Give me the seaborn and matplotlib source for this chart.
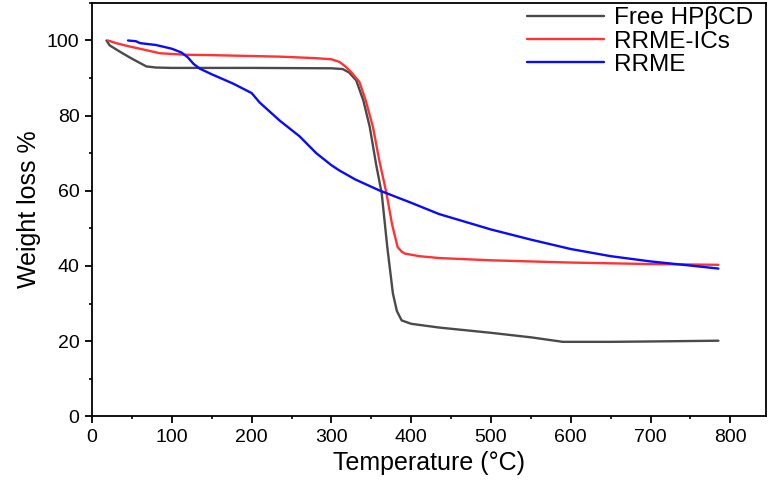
import pandas as pd
import matplotlib.pyplot as plt
import seaborn as sns
from matplotlib.ticker import MultipleLocator

# TGA curves
free_T = [18, 22, 35, 47, 60, 68, 80, 100, 200, 300, 314, 322, 331, 340, 348, 356,
          363, 370, 377, 382, 388, 400, 435, 500, 550, 590, 650, 700, 785]
free_W = [100, 98.7, 97, 95.5, 94, 93.1, 92.8, 92.7, 92.7, 92.6, 92.4, 91.5, 89.4, 84, 77, 67,
          59.3, 45, 32.7, 28, 25.5, 24.6, 23.6, 22.2, 21, 19.8, 19.8, 19.9, 20.1]

ic_T = [20, 30, 45, 60, 85, 118, 150, 235, 280, 300, 310, 318, 325, 335, 343, 352,
        360, 369, 376, 383, 388, 392, 410, 435, 500, 600, 700, 785]
ic_W = [100, 99.3, 98.5, 97.8, 96.6, 96.2, 96.1, 95.7, 95.3, 95, 94.3, 93, 91.5, 89, 84, 77,
        68, 59.3, 51, 45, 43.8, 43.3, 42.6, 42.1, 41.5, 40.9, 40.5, 40.3]

rrme_T = [45, 55, 60, 80, 100, 112, 120, 127, 135, 150, 177, 200, 210, 235, 260, 281, 300,
          310, 330, 360, 400, 435, 500, 550, 600, 650, 700, 750, 785]
rrme_W = [100, 99.8, 99.3, 98.8, 97.8, 96.8, 95.5, 93.8, 92.5, 91, 88.5, 86, 83.5, 78.7, 74.5, 70, 66.8,
          65.4, 63, 60.1, 56.8, 53.8, 49.7, 47, 44.5, 42.6, 41.2, 40.1, 39.3]

labels = ['Free HPβCD', 'RRME-ICs', 'RRME']
colors = ['#4a4a4a', '#ff3333', '#0a0aff']

df = pd.concat([
    pd.DataFrame({'T': free_T, 'W': free_W, 'sample': labels[0]}),
    pd.DataFrame({'T': ic_T, 'W': ic_W, 'sample': labels[1]}),
    pd.DataFrame({'T': rrme_T, 'W': rrme_W, 'sample': labels[2]}),
])

sns.set_style("ticks")
plt.rcParams['font.family'] = ['Liberation Sans', 'DejaVu Sans']
plt.rcParams['text.color'] = 'black'
plt.rcParams['axes.labelcolor'] = 'black'
plt.rcParams['xtick.labelcolor'] = 'black'
plt.rcParams['ytick.labelcolor'] = 'black'

fig = plt.figure(figsize=(7.74, 4.84), dpi=100)
ax = fig.add_axes([0.119, 0.140, 0.871, 0.854])
sns.lineplot(data=df, x='T', y='W', hue='sample', palette=dict(zip(labels, colors)),
             estimator=None, linewidth=1.7, ax=ax)

ax.set_xlim(0, 845)
ax.set_ylim(0, 110)
ax.xaxis.set_major_locator(MultipleLocator(100))
ax.xaxis.set_minor_locator(MultipleLocator(50))
ax.yaxis.set_major_locator(MultipleLocator(20))
ax.yaxis.set_minor_locator(MultipleLocator(10))
ax.tick_params(which='major', length=5, width=1.3, labelsize=14, color='black', pad=4)
ax.tick_params(which='minor', length=2.5, width=1.2, color='black')
for s in ax.spines.values():
    s.set_linewidth(1.3)
    s.set_color('black')

ax.set_xlabel('Temperature (°C)', fontsize=18, labelpad=4)
ax.set_ylabel('Weight loss %', fontsize=18, labelpad=4)

# legend without frame, long handles, top right
leg = ax.legend(loc='upper right', frameon=False, fontsize=17.5, handlelength=3.2,
                borderaxespad=0.0, labelspacing=0.05, handletextpad=0.4,
                bbox_to_anchor=(0.995, 1.015))

plt.savefig('out.png', dpi=100)
